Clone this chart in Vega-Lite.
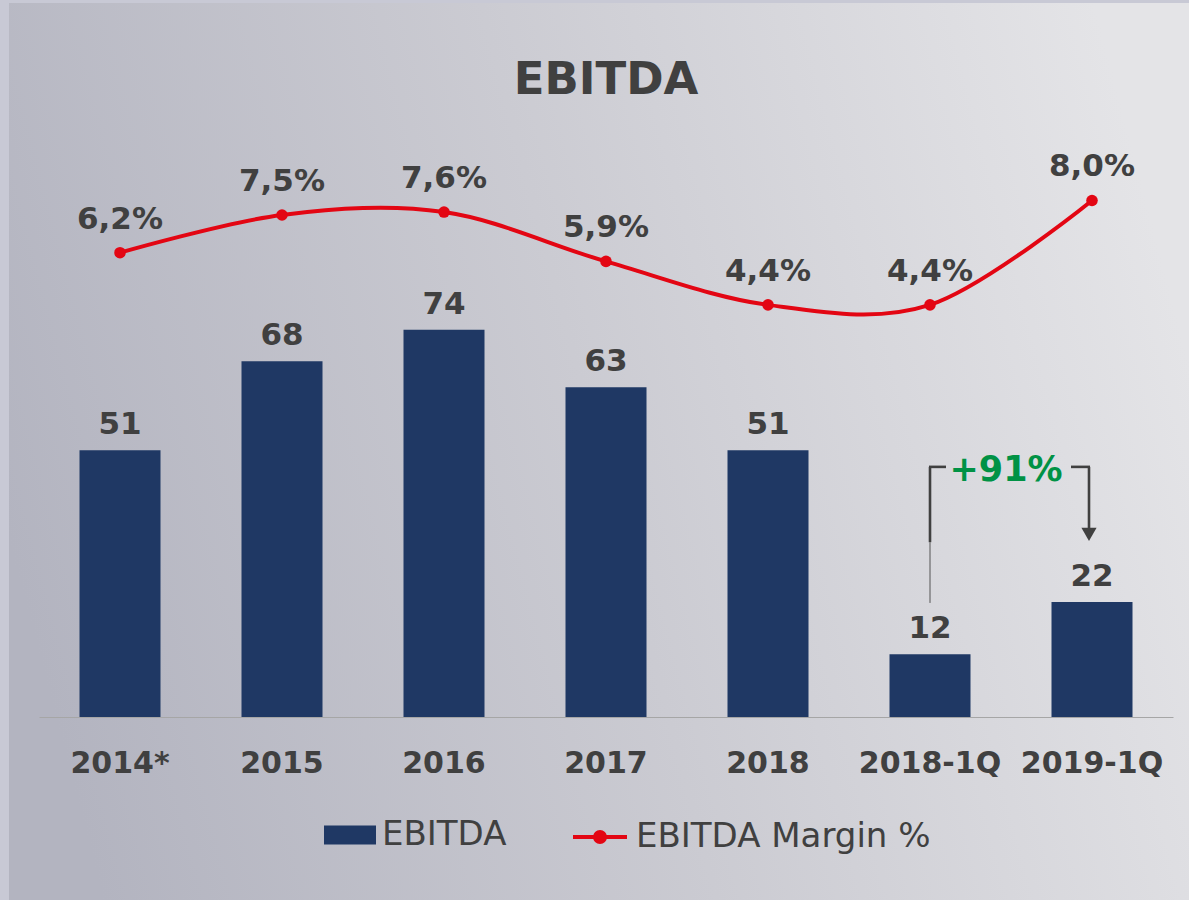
{
  "$schema": "https://vega.github.io/schema/vega-lite/v6.json",
  "width": 1180,
  "height": 897,
  "autosize": {"type": "none"},
  "padding": {"left": 9, "top": 3, "right": 0, "bottom": 0},
  "background": "#c8c9d5",
  "config": {
    "font": "DejaVu Sans",
    "view": {
      "stroke": null,
      "fill": {
        "gradient": "linear",
        "x1": 0, "y1": 0.6, "x2": 1, "y2": 0.4,
        "stops": [
          {"offset": 0, "color": "#b3b4c0"},
          {"offset": 0.5, "color": "#cbcbd2"},
          {"offset": 1, "color": "#e4e4e7"}
        ]
      }
    }
  },
  "title": {
    "text": "EBITDA",
    "fontSize": 45,
    "fontWeight": "bold",
    "font": "DejaVu Sans",
    "color": "#404040",
    "anchor": "middle",
    "frame": "group",
    "offset": -100,
    "dx": 7
  },
  "data": {
    "values": [
      {"period": "2014*", "ebitda": 51, "margin": 6.2, "mlabel": "6,2%"},
      {"period": "2015", "ebitda": 68, "margin": 7.5, "mlabel": "7,5%"},
      {"period": "2016", "ebitda": 74, "margin": 7.6, "mlabel": "7,6%"},
      {"period": "2017", "ebitda": 63, "margin": 5.9, "mlabel": "5,9%"},
      {"period": "2018", "ebitda": 51, "margin": 4.4, "mlabel": "4,4%"},
      {"period": "2018-1Q", "ebitda": 12, "margin": 4.4, "mlabel": "4,4%"},
      {"period": "2019-1Q", "ebitda": 22, "margin": 8.0, "mlabel": "8,0%"}
    ]
  },
  "resolve": {"scale": {"y": "independent"}},
  "layer": [
    {
      "layer": [
        {
          "mark": {"type": "bar", "color": "#1f3864"},
          "encoding": {
            "x": {
              "field": "period",
              "type": "nominal",
              "scale": {
                "domain": ["2014*", "2015", "2016", "2017", "2018", "2018-1Q", "2019-1Q"],
                "range": [30, 1164],
                "paddingInner": 0.5,
                "paddingOuter": 0.25
              },
              "axis": {
                "title": null,
                "labelAngle": 0,
                "labelFont": "DejaVu Sans",
                "labelFontSize": 30,
                "labelFontWeight": "bold",
                "labelColor": "#404040",
                "labelPadding": 31,
                "ticks": false,
                "grid": false,
                "domainColor": "#a6a6a6",
                "domainWidth": 1,
                "offset": -183
              }
            },
            "y": {
              "field": "ebitda",
              "type": "quantitative",
              "scale": {"domain": [0, 116], "range": [714, 107], "nice": false, "zero": false},
              "axis": null
            },
            "fill": {
              "datum": "EBITDA",
              "scale": {"range": ["#1f3864"]},
              "legend": {
                "title": null,
                "orient": "none",
                "legendX": 315,
                "legendY": 806,
                "padding": 0,
                "symbolType": "M-1,-0.365H1V0.365H-1Z",
                "symbolSize": 2704,
                "symbolStrokeWidth": 0,
                "labelFont": "DejaVu Sans",
                "labelFontSize": 34,
                "labelColor": "#404040",
                "labelOffset": 6,
                "labelLimit": 500
              }
            }
          }
        },
        {
          "mark": {"type": "text", "fontSize": 31, "fontWeight": "bold", "color": "#404040", "baseline": "alphabetic", "dy": -16},
          "encoding": {
            "x": {"field": "period", "type": "nominal"},
            "y": {"field": "ebitda", "type": "quantitative"},
            "text": {"field": "ebitda", "type": "quantitative"}
          }
        },
        {
          "data": {"values": [{"cat": "2018-1Q", "lo": 33.4, "hi": 47.8}]},
          "mark": {"type": "rule", "color": "#404040", "strokeWidth": 2.6},
          "encoding": {
            "x": {"field": "cat", "type": "nominal"},
            "y": {"field": "lo", "type": "quantitative"},
            "y2": {"field": "hi"}
          }
        },
        {
          "data": {"values": [{"cat": "2018-1Q", "lo": 21.8, "hi": 33.4}]},
          "mark": {"type": "rule", "color": "#555555", "strokeWidth": 1},
          "encoding": {
            "x": {"field": "cat", "type": "nominal"},
            "y": {"field": "lo", "type": "quantitative"},
            "y2": {"field": "hi"}
          }
        },
        {
          "data": {"values": [{"cat": "2018-1Q", "v": 47.8}]},
          "mark": {"type": "rule", "color": "#404040", "strokeWidth": 2.6, "xOffset": -1, "x2Offset": 16},
          "encoding": {
            "x": {"field": "cat", "type": "nominal"},
            "x2": {"field": "cat"},
            "y": {"field": "v", "type": "quantitative"}
          }
        },
        {
          "data": {"values": [{"cat": "2019-1Q", "v": 47.8}]},
          "mark": {"type": "rule", "color": "#404040", "strokeWidth": 2.6, "xOffset": -21, "x2Offset": -2},
          "encoding": {
            "x": {"field": "cat", "type": "nominal"},
            "x2": {"field": "cat"},
            "y": {"field": "v", "type": "quantitative"}
          }
        },
        {
          "data": {"values": [{"cat": "2019-1Q", "lo": 36.1, "hi": 47.8}]},
          "mark": {"type": "rule", "color": "#404040", "strokeWidth": 2.6, "xOffset": -3},
          "encoding": {
            "x": {"field": "cat", "type": "nominal"},
            "y": {"field": "lo", "type": "quantitative"},
            "y2": {"field": "hi"}
          }
        },
        {
          "data": {"values": [{"cat": "2019-1Q", "v": 34.9}]},
          "mark": {"type": "point", "shape": "triangle-down", "filled": true, "color": "#404040", "opacity": 1, "size": 230, "xOffset": -3},
          "encoding": {
            "x": {"field": "cat", "type": "nominal"},
            "y": {"field": "v", "type": "quantitative"}
          }
        },
        {
          "data": {"values": [{"cat": "2018-1Q", "v": 45.1, "label": "+91%"}]},
          "mark": {"type": "text", "fontSize": 35, "fontWeight": "bold", "color": "#009245", "baseline": "alphabetic", "xOffset": 76},
          "encoding": {
            "x": {"field": "cat", "type": "nominal"},
            "y": {"field": "v", "type": "quantitative"},
            "text": {"field": "label", "type": "nominal"}
          }
        }
      ]
    },
    {
      "layer": [
        {
          "mark": {"type": "line", "interpolate": "cardinal", "strokeWidth": 4},
          "encoding": {
            "x": {"field": "period", "type": "nominal"},
            "y": {
              "field": "margin",
              "type": "quantitative",
              "scale": {"domain": [-9.81, 11.12], "range": [714, 107], "nice": false, "zero": false},
              "axis": null
            },
            "stroke": {
              "datum": "EBITDA Margin %",
              "scale": {"range": ["#e30613"]},
              "legend": {
                "title": null,
                "orient": "none",
                "legendX": 562,
                "legendY": 805,
                "padding": 0,
                "symbolType": "M-1,0H1M0.185,0A0.185,0.185,0,1,1,-0.185,0A0.185,0.185,0,1,1,0.185,0",
                "symbolSize": 2916,
                "symbolStrokeWidth": 4,
                "symbolFillColor": "#e30613",
                "labelFont": "DejaVu Sans",
                "labelFontSize": 34,
                "labelColor": "#404040",
                "labelOffset": 7,
                "labelLimit": 500
              }
            }
          }
        },
        {
          "mark": {"type": "point", "filled": true, "color": "#e30613", "opacity": 1, "size": 133},
          "encoding": {
            "x": {"field": "period", "type": "nominal"},
            "y": {"field": "margin", "type": "quantitative"}
          }
        },
        {
          "mark": {"type": "text", "fontSize": 31, "fontWeight": "bold", "color": "#404040", "baseline": "alphabetic", "dy": -24},
          "encoding": {
            "x": {"field": "period", "type": "nominal"},
            "y": {"field": "margin", "type": "quantitative"},
            "text": {"field": "mlabel", "type": "nominal"}
          }
        }
      ]
    }
  ]
}
